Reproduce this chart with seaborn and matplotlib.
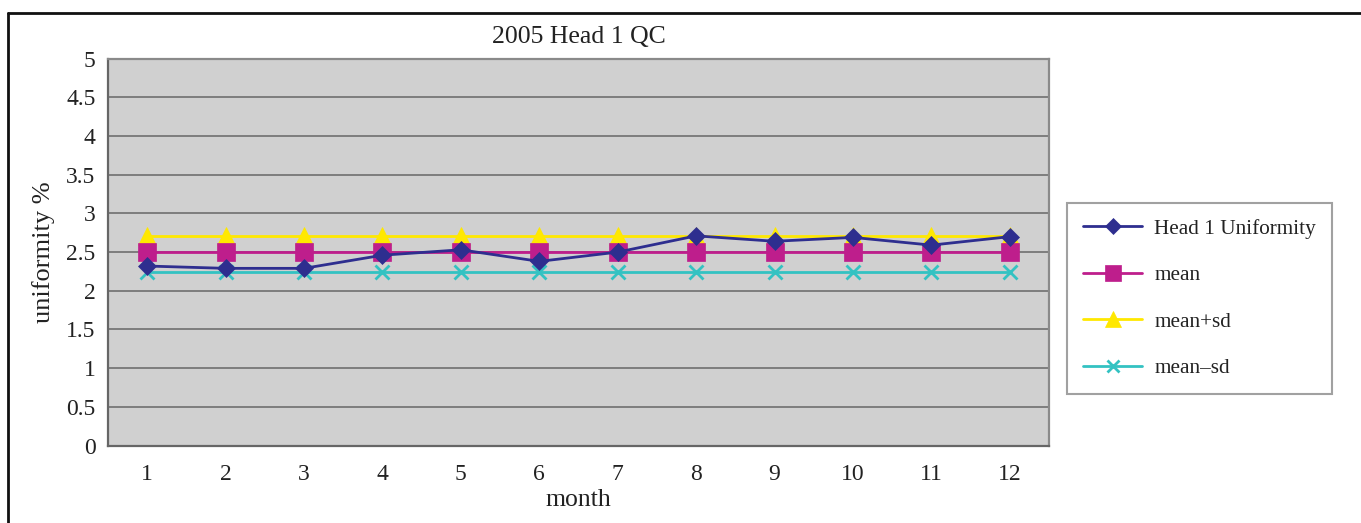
import matplotlib
matplotlib.use("Agg")
import matplotlib.pyplot as plt
import seaborn as sns
import pandas as pd
from matplotlib.lines import Line2D
from matplotlib.ticker import FixedLocator

months = [1, 2, 3, 4, 5, 6, 7, 8, 9, 10, 11, 12]
head1 = [2.32, 2.29, 2.29, 2.46, 2.53, 2.38, 2.50, 2.71, 2.64, 2.69, 2.59, 2.70]
mean_vals = [2.50] * 12
mean_plus_sd = [2.71] * 12
mean_minus_sd = [2.24] * 12
series_names = ["Head 1 Uniformity", "mean", "mean+sd", "mean\u2013sd"]
y_ticks = [0, 0.5, 1, 1.5, 2, 2.5, 3, 3.5, 4, 4.5, 5]
y_tick_labels = ["0", "0.5", "1", "1.5", "2", "2.5", "3", "3.5", "4", "4.5", "5"]

colors = ["#2E2E8F", "#BE1E8C", "#FFE800", "#33C2C2"]
markers = ["D", "s", "^", "x"]
msizes = [9, 13, 13, 10]

sns.set_theme(style="white")
plt.rcParams["font.family"] = ["Liberation Serif", "DejaVu Serif"]

fig = plt.figure(figsize=(13.61, 5.23), dpi=100)
ax = fig.add_axes([108 / 1361, 1 - 445.5 / 523, (1049 - 108) / 1361, (445.5 - 58.7) / 523])
ax.set_facecolor("#D0D0D0")

data = pd.DataFrame({"month": months * 4,
                     "value": mean_minus_sd + mean_plus_sd + mean_vals + head1,
                     "series": [series_names[3]] * 12 + [series_names[2]] * 12 + [series_names[1]] * 12 + [series_names[0]] * 12})

order_draw = [3, 2, 1, 0]
for i in order_draw:
    sub = data[data["series"] == series_names[i]]
    sns.lineplot(data=sub, x="month", y="value", ax=ax, color=colors[i],
                 marker=markers[i], markersize=msizes[i], linewidth=2,
                 markeredgecolor=colors[i], markeredgewidth=2 if markers[i] == "x" else 0.5,
                 legend=False, zorder=3 + (3 - i))

ax.set_xlim(0.5, 12.5)
ax.set_ylim(0, 5)
ax.set_yticks(y_ticks)
ax.set_yticklabels(y_tick_labels, fontsize=17, color="#222222")
ax.set_xticks(months)
ax.set_xticklabels([str(m) for m in months], fontsize=17, color="#222222")
ax.xaxis.set_minor_locator(FixedLocator([m + 0.5 for m in months]))
ax.tick_params(axis="x", which="major", length=0, pad=13)
ax.tick_params(axis="x", which="minor", direction="in", length=11, width=1.2, color="#666666")
ax.tick_params(axis="y", length=0, pad=9)
ax.grid(axis="y", color="#777777", linewidth=1.3, zorder=1)
ax.set_axisbelow(True)
for side in ["left", "bottom"]:
    ax.spines[side].set_color("#666666")
    ax.spines[side].set_linewidth(1.6)
for side in ["top", "right"]:
    ax.spines[side].set_color("#8A8A8A")
    ax.spines[side].set_linewidth(1.6)

ax.set_xlabel("month", fontsize=18.5, color="#222222", labelpad=3)
ax.set_ylabel("uniformity %", fontsize=19, color="#222222", labelpad=8)
ax.set_title("2005 Head 1 QC", fontsize=18.5, color="#222222", pad=11)

handles = [Line2D([0], [0], color=colors[i], marker=markers[i], markersize=msizes[i] - 1,
                  linewidth=2, markeredgecolor=colors[i],
                  markeredgewidth=2 if markers[i] == "x" else 0.5) for i in range(4)]
leg = fig.legend(handles, series_names, loc="upper left",
                 bbox_to_anchor=(1067 / 1361, 1 - 203 / 523), borderaxespad=0,
                 fontsize=15.3, frameon=True, fancybox=False, handlelength=2.8,
                 labelspacing=1.25, borderpad=0.75, handletextpad=0.55)
leg.get_frame().set_edgecolor("#8A8A8A")
leg.get_frame().set_linewidth(1.5)
for t in leg.get_texts():
    t.set_color("#222222")

# outer chart border (left and top visible)
fig.add_artist(Line2D([8 / 1361, 8 / 1361], [0, 1 - 13 / 523], transform=fig.transFigure,
                      color="#111111", linewidth=2))
fig.add_artist(Line2D([8 / 1361, 1], [1 - 13 / 523, 1 - 13 / 523], transform=fig.transFigure,
                      color="#111111", linewidth=2))

fig.savefig("out.png", dpi=100, facecolor="white")
